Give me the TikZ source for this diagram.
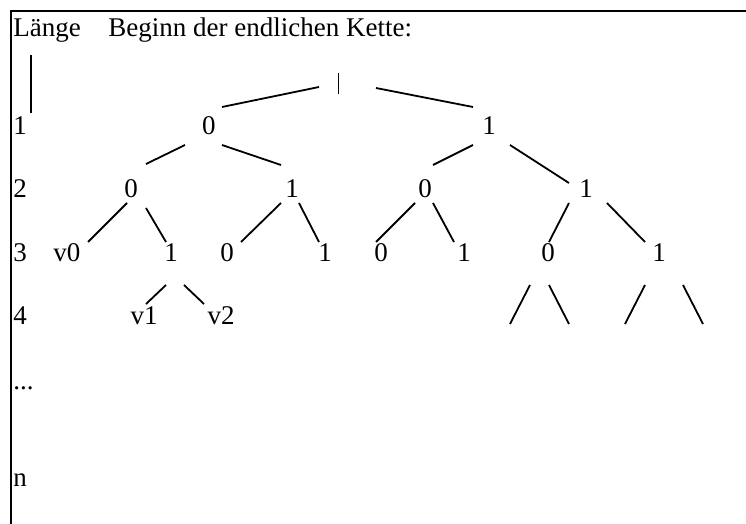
\documentclass[tikz,border=0pt]{standalone}
\usepackage{fontspec}
\setmainfont{Liberation Serif}
\begin{document}
\begin{tikzpicture}[x=0.5pt,y=-0.5pt,
  lbl/.style={anchor=base,inner sep=0pt,font=\fontsize{13.5}{16}\selectfont},
  lft/.style={lbl,anchor=base west},
  edge/.style={line width=0.9pt},
  frame/.style={line width=1.1pt}]
\useasboundingbox (0,0) rectangle (746,524);

% frame: top and left rules only
\draw[frame] (746,11) -- (11,11) -- (11,524);

% heading
\node[lft] (hlen) at (13,37) {Länge};
\node[lft] (hbeg) at (108,37) {Beginn der endlichen Kette:};

% length axis
\draw[edge] (31,55) -- (31,113);
\node[lft] (l1) at (13,135) {1};
\node[lft] (l2) at (13,198) {2};
\node[lft] (l3) at (13,262) {3};
\node[lft] (l4) at (13,325) {4};
\node[lft] (ld) at (13,390) {...};
\node[lft] (ln) at (13,487) {n};

% root stroke
\coordinate (rt) at (338.5,73);
\coordinate (rb) at (338.5,94);
\draw[edge] (rt) -- (rb);

% level 1
\node[lbl] (a0) at (209,135) {0};
\node[lbl] (a1) at (489,135) {1};
% level 2
\node[lbl] (b00) at (131,198) {0};
\node[lbl] (b01) at (292,198) {1};
\node[lbl] (b10) at (425,198) {0};
\node[lbl] (b11) at (586,198) {1};
% level 3
\node[lbl] (c000) at (67,262) {v0};
\node[lbl] (c001) at (171,262) {1};
\node[lbl] (c010) at (227,262) {0};
\node[lbl] (c011) at (325,262) {1};
\node[lbl] (c100) at (381,262) {0};
\node[lbl] (c101) at (464,262) {1};
\node[lbl] (c110) at (548,262) {0};
\node[lbl] (c111) at (659,262) {1};
% level 4
\node[lbl] (d0010) at (144,325) {v1};
\node[lbl] (d0011) at (221,325) {v2};

% branches from the root
\draw[edge] (319,87) -- (222,107);
\draw[edge] (376,88) -- (473,107);
% level 1 -> 2
\draw[edge] (185,145) -- (146,164);
\draw[edge] (222,145) -- (281,165);
\draw[edge] (473,145) -- (433,165);
\draw[edge] (510,145) -- (569,183);
% level 2 -> 3
\draw[edge] (127,203) -- (88,242);
\draw[edge] (146,208) -- (166,242);
\draw[edge] (281,203) -- (241,242);
\draw[edge] (299,203) -- (319,242);
\draw[edge] (415,203) -- (376,242);
\draw[edge] (433,203) -- (454,242);
\draw[edge] (569,203) -- (549,242);
\draw[edge] (607,203) -- (645,242);
% level 3 -> 4
\draw[edge] (166,285) -- (146,304);
\draw[edge] (184,285) -- (204,304);
\draw[edge] (530,285) -- (510,324);
\draw[edge] (549,285) -- (569,324);
\draw[edge] (645,285) -- (625,324);
\draw[edge] (683,285) -- (703,324);
\end{tikzpicture}
\end{document}
